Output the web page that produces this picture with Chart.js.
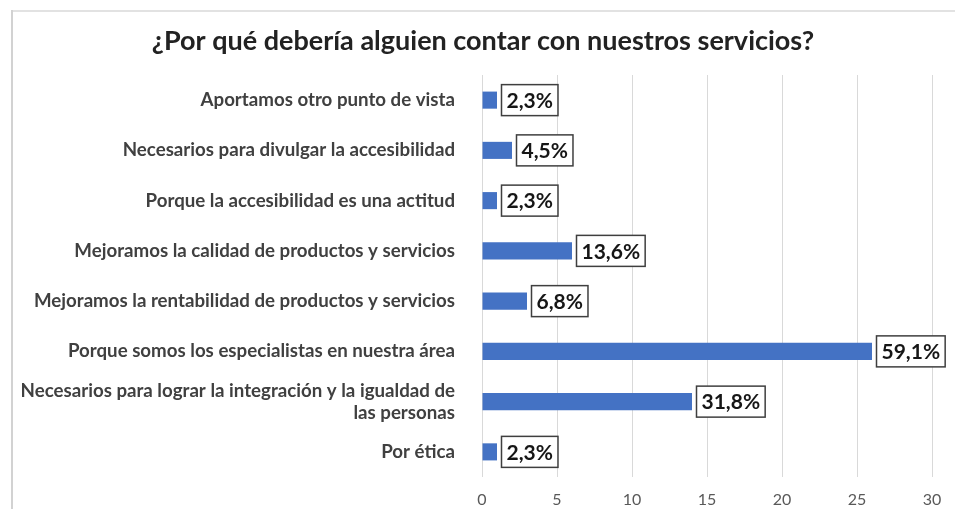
<!DOCTYPE html>
<html>
<head>
<meta charset="utf-8">
<script src="https://cdn.jsdelivr.net/npm/chart.js@4.4.1/dist/chart.umd.min.js"></script>
<style>
  html, body { margin: 0; padding: 0; background: #ffffff; }
  #wrap { position: relative; width: 955px; height: 509px; overflow: hidden; }
  #frameTop { position: absolute; left: 11px; top: 10px; width: 944px; height: 2px; background: #e2e2e2; }
  #frameLeft { position: absolute; left: 11px; top: 10px; width: 2px; height: 499px; background: #d2d2d2; }
  canvas { position: absolute; left: 0; top: 0; }
</style>
</head>
<body>
<div id="wrap">
  <canvas id="c" width="955" height="509"></canvas>
  <div id="frameTop"></div>
  <div id="frameLeft"></div>
</div>
<script>
const titleText = '¿Por qué debería alguien contar con nuestros servicios?';
const categories = [
  'Aportamos otro punto de vista',
  'Necesarios para divulgar la accesibilidad',
  'Porque la accesibilidad es una actitud',
  'Mejoramos la calidad de productos y servicios',
  'Mejoramos la rentabilidad de productos y servicios',
  'Porque somos los especialistas en nuestra área',
  ['Necesarios para lograr la integración y la igualdad de', 'las personas'],
  'Por ética'
];
const counts = [1, 2, 1, 6, 3, 26, 14, 1];
const percentLabels = ['2,3%', '4,5%', '2,3%', '13,6%', '6,8%', '59,1%', '31,8%', '2,3%'];
const xMin = 0;
const xMax = 30;
const xStep = 5;

const FONT = 'Lato, "Open Sans", sans-serif';

const widenLabelArea = {
  id: 'widenLabelArea',
  afterLayout(chart) {
    // let the long category labels use the space left of the layout padding
    chart.scales.y.left = 0;
  }
};

const boxLabels = {
  id: 'boxLabels',
  afterDatasetsDraw(chart) {
    const ctx = chart.ctx;
    const meta = chart.getDatasetMeta(0);
    ctx.save();
    ctx.font = 'bold 21px ' + FONT;
    ctx.textBaseline = 'middle';
    ctx.textAlign = 'left';
    meta.data.forEach((bar, i) => {
      const txt = percentLabels[i];
      const tw = ctx.measureText(txt).width;
      const padX = 5;
      const w = tw + padX * 2;
      const h = 31;
      const x0 = bar.x + 4.5;
      const y0 = bar.y - h / 2;
      ctx.fillStyle = '#ffffff';
      ctx.fillRect(x0, y0, w, h);
      ctx.lineWidth = 1.5;
      ctx.strokeStyle = '#3f3f3f';
      ctx.strokeRect(x0, y0, w, h);
      ctx.fillStyle = '#161616';
      ctx.fillText(txt, x0 + padX, bar.y + 1);
    });
    ctx.restore();
  }
};

new Chart(document.getElementById('c'), {
  type: 'bar',
  data: {
    labels: categories,
    datasets: [{
      data: counts,
      backgroundColor: '#4472C4',
      borderWidth: 0,
      categoryPercentage: 1,
      barPercentage: 0.34
    }]
  },
  options: {
    indexAxis: 'y',
    responsive: false,
    animation: false,
    layout: { padding: { left: 34, right: 23, top: 0, bottom: 0 } },
    plugins: {
      legend: { display: false },
      tooltip: { enabled: false },
      title: {
        display: true,
        text: titleText,
        color: '#222222',
        font: { family: FONT, size: 27, weight: 'bold' },
        padding: { top: 25, bottom: 17.6 }
      }
    },
    scales: {
      x: {
        min: xMin,
        max: xMax,
        ticks: {
          stepSize: xStep,
          color: '#595959',
          padding: 13,
          font: { family: FONT, size: 16 }
        },
        grid: { color: '#d9d9d9', lineWidth: 1, drawTicks: false },
        border: { display: false },
        afterFit(scale) { scale.height = 32; }
      },
      y: {
        ticks: {
          color: '#404040',
          padding: 27,
          font: { family: FONT, size: 18.7, weight: 'bold', lineHeight: 1.17 }
        },
        grid: { display: false, drawTicks: false },
        border: { display: false },
        afterFit(scale) {
          scale.width = 448;
          scale.paddingTop = 0;
          scale.paddingBottom = 0;
        }
      }
    }
  },
  plugins: [widenLabelArea, boxLabels]
});
</script>
</body>
</html>
